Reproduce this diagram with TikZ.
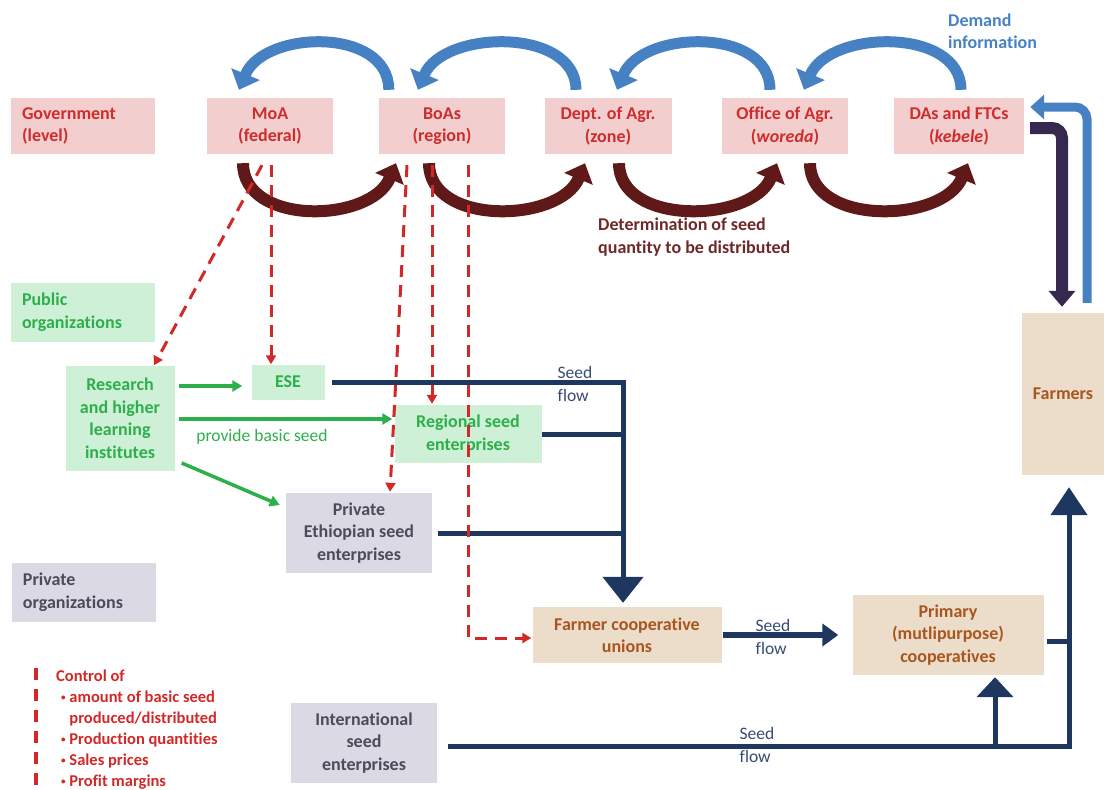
\documentclass[tikz,border=0pt]{standalone}
\usepackage{fontspec}
\setmainfont{Carlito}[Ligatures=NoCommon]
\usepackage{xcolor}
\usetikzlibrary{arrows.meta, calc}
\definecolor{govpink}{RGB}{242,206,206}
\definecolor{govred}{RGB}{205,45,45}
\definecolor{pubfill}{RGB}{205,240,214}
\definecolor{pubgreen}{RGB}{45,175,75}
\definecolor{privfill}{RGB}{219,217,227}
\definecolor{privgray}{RGB}{75,75,90}
\definecolor{farmfill}{RGB}{236,221,203}
\definecolor{farmbrown}{RGB}{170,85,30}
\definecolor{demblue}{RGB}{70,130,195}
\definecolor{allocbrown}{RGB}{95,25,25}
\definecolor{ctrlred}{RGB}{210,40,40}
\definecolor{seednavy}{RGB}{30,55,95}
\definecolor{seedtxt}{RGB}{55,75,115}
\definecolor{farmpurple}{RGB}{55,40,80}
\definecolor{detbrown}{RGB}{110,40,40}
\newcommand{\boxfont}{\fontsize{18}{22.5}\selectfont\bfseries}
\newcommand{\flowfont}{\fontsize{17.5}{23}\selectfont}
\newcommand{\legfont}{\fontsize{16.5}{21}\selectfont\bfseries}
\newcommand{\legbul}{\raisebox{2pt}{\scalebox{0.55}{•}}\ }

\begin{document}
\begin{tikzpicture}[x=1pt, y=-1pt,
  box/.style={rectangle, inner sep=0pt, align=center, font=\boxfont},
  govbox/.style={box, fill=govpink, text=govred, minimum height=56pt},
  pubbox/.style={box, fill=pubfill, text=pubgreen},
  privbox/.style={box, fill=privfill, text=privgray},
  farmbox/.style={box, fill=farmfill, text=farmbrown},
  grouplbl/.style={align=left, text width=122pt, inner xsep=11pt, minimum height=59pt},
  demand/.style={draw=demblue, line width=11pt, -{Triangle[length=17pt,width=30pt]}},
  alloc/.style={draw=allocbrown, line width=12pt, -{Triangle[length=17pt,width=30pt]}},
  ctrl/.style={draw=ctrlred, line width=3pt, dash pattern=on 12pt off 8pt, -{Triangle[length=9pt,width=10pt]}},
  basic/.style={draw=pubgreen, line width=3.5pt, -{Triangle[length=10pt,width=11pt]}},
  seed/.style={draw=seednavy, line width=5pt},
  flowlbl/.style={font=\flowfont, text=seedtxt, align=left, inner sep=0pt},
]
\useasboundingbox (0,0) rectangle (1104,790);

% Government level
\node[govbox, grouplbl, minimum height=56pt] (gov) at (83,126) {Government\\(level)};
\node[govbox, minimum width=126pt] (moa) at (270,126) {MoA\\(federal)};
\node[govbox, minimum width=126pt] (boas) at (442,126) {BoAs\\(region)};
\node[govbox, minimum width=127pt] (dept) at (608,126) {Dept. of Agr.\\(zone)};
\node[govbox, minimum width=126pt] (office) at (785,126) {Office of Agr.\\(\textit{woreda})};
\node[govbox, minimum width=130pt] (das) at (959,126) {DAs and FTCs\\(\textit{kebele})};

% Public organizations
\node[pubbox, grouplbl] (pub) at (83,312) {Public\\organizations};
\node[pubbox, minimum width=109pt, minimum height=105pt] (research) at (120,418) {Research\\and higher\\learning\\institutes};
\node[pubbox, minimum width=73pt, minimum height=35pt] (ese) at (288,382) {ESE};
\node[pubbox, minimum width=147pt, minimum height=58pt] (regional) at (468,434) {Regional seed\\enterprises};

% Private organizations
\node[privbox, grouplbl] (priv) at (84,592) {Private\\organizations};
\node[privbox, minimum width=146pt, minimum height=80pt] (private) at (359,533) {Private\\Ethiopian seed\\enterprises};
\node[privbox, minimum width=146pt, minimum height=80pt] (intl) at (364,743) {International\\seed\\enterprises};

% Cooperatives and farmers
\node[farmbox, minimum width=189pt, minimum height=56pt] (fcu) at (627,635) {Farmer cooperative\\unions};
\node[farmbox, minimum width=191pt, minimum height=80pt] (primary) at (948,635) {Primary\\(mutlipurpose)\\cooperatives};
\node[farmbox, minimum width=82pt, minimum height=162pt] (farmers) at (1063,394) {Farmers};

% Labels
\node[font=\boxfont, text=demblue, align=left, anchor=west, inner sep=0pt] (demlbl) at (948,31) {Demand\\information};
\node[font=\boxfont, text=detbrown, align=left, anchor=west, inner sep=0pt] (detlbl) at (598,237) {Determination of seed\\quantity to be distributed};
\node[flowlbl] (sf1) at (575,384) {Seed\\flow};
\node[flowlbl] (sf2) at (773,637) {Seed\\flow};
\node[flowlbl] (sf3) at (757,745) {Seed\\flow};
\node[font=\flowfont, text=pubgreen, inner sep=0pt] (basiclbl) at (262,437) {provide basic seed};

% Demand information (up the chain)
\draw[demand] ([shift={(10,-8)}]boas.north west) .. controls +(0,-63) and +(25,-60) .. ([shift={(-31,-8)}]moa.north);
\draw[demand] ([shift={(-32,-8)}]dept.north) .. controls +(0,-63) and +(25,-60) .. ([shift={(-24,-8)}]boas.north);
\draw[demand] ([shift={(-15,-8)}]office.north) .. controls +(0,-63) and +(25,-60) .. ([shift={(9,-8)}]dept.north);
\draw[demand] ([shift={(2,-8)}]das.north) .. controls +(0,-63) and +(25,-60) .. ([shift={(19,-8)}]office.north);

% Seed quantity (down the chain)
\draw[alloc] ([shift={(-27,9)}]moa.south) .. controls +(0,63) and +(-25,60) .. ([shift={(-46,9)}]boas.south);
\draw[alloc] ([shift={(-13,9)}]boas.south) .. controls +(0,63) and +(-25,60) .. ([shift={(-23,9)}]dept.south);
\draw[alloc] ([shift={(11,9)}]dept.south) .. controls +(0,63) and +(-25,60) .. ([shift={(-8,9)}]office.south);
\draw[alloc] ([shift={(25,9)}]office.south) .. controls +(0,63) and +(-25,60) .. ([shift={(9,9)}]das.south);

% Farmers <-> kebele
\draw[demand, line width=9pt, rounded corners=12pt, -{Triangle[length=14pt,width=24pt]}] ([shift={(24,-10)}]farmers.north) |- ([shift={(6,-19)}]das.east);
\draw[draw=farmpurple, line width=12pt, rounded corners=10pt, -{Triangle[length=16pt,width=26pt]}] ([shift={(6,2)}]das.east) -| ([shift={(-1,-6)}]farmers.north);

% Seed flow
\coordinate (jv) at ([xshift=-4pt]fcu.north);
\draw[seed, -{Triangle[length=26pt,width=40pt]}] ([xshift=7pt]ese.east) -| ([yshift=4pt]jv);
\draw[seed] (regional.east) -- (regional.east -| jv);
\draw[seed] ([xshift=6pt]private.east) -- (private.east -| jv);
\draw[seed, line width=6pt, -{Triangle[length=16pt,width=22pt]}] ([xshift=1pt]fcu.east) -- ([xshift=-14pt]primary.west);
\coordinate (jr) at ([shift={(6,12)}]farmers.south);
\coordinate (jb) at ([shift={(11,3)}]intl.east);
\draw[seed, -{Triangle[length=28pt,width=36pt]}] (jb) -| (jr);
\coordinate (pe) at ([shift={(3,6)}]primary.east);
\draw[seed] (pe) -- (pe -| jr);
\coordinate (pb) at ([shift={(47,2)}]primary.south);
\draw[seed, -{Triangle[length=20pt,width=36pt]}] (pb |- jb) -- (pb);

% Basic seed
\draw[basic] ([shift={(4,-32)}]research.east) -- ([shift={(-9,4)}]ese.west);
\draw[basic] ([shift={(4,1)}]research.east) -- ([shift={(-2,-15)}]regional.west);
\draw[basic] ([shift={(7,45)}]research.east) -- ([shift={(-6,-28)}]private.west);

% Control
\draw[ctrl] ([shift={(-8,11)}]moa.south) -- ([shift={(34,0)}]research.north);
\draw[ctrl] ([shift={(1,11)}]moa.south) -- ([xshift=-17pt]ese.north);
\draw[ctrl] ([shift={(-35,11)}]boas.south) -- ([shift={(31,-1)}]private.north);
\draw[ctrl] ([shift={(-10,11)}]boas.south) -- ([shift={(-36,-1)}]regional.north);
\draw[ctrl] ([shift={(26,11)}]boas.south) |- ([shift={(-1,3)}]fcu.west);

% Legend
\node[font=\legfont, text=ctrlred, align=left, anchor=north west, inner sep=0pt] (legend) at (56,670)
  {Control of\\\hspace*{5pt}\legbul amount of basic seed\\\hspace*{5pt}\phantom{\legbul}produced/distributed\\\hspace*{5pt}\legbul Production quantities\\\hspace*{5pt}\legbul Sales prices\\\hspace*{5pt}\legbul Profit margins};
\draw[ctrlred, line width=3.5pt, dash pattern=on 12pt off 9pt] ([shift={(-20,-2)}]legend.north west) -- ([xshift=-20pt, yshift=-6pt]legend.south west);

\end{tikzpicture}
\end{document}
